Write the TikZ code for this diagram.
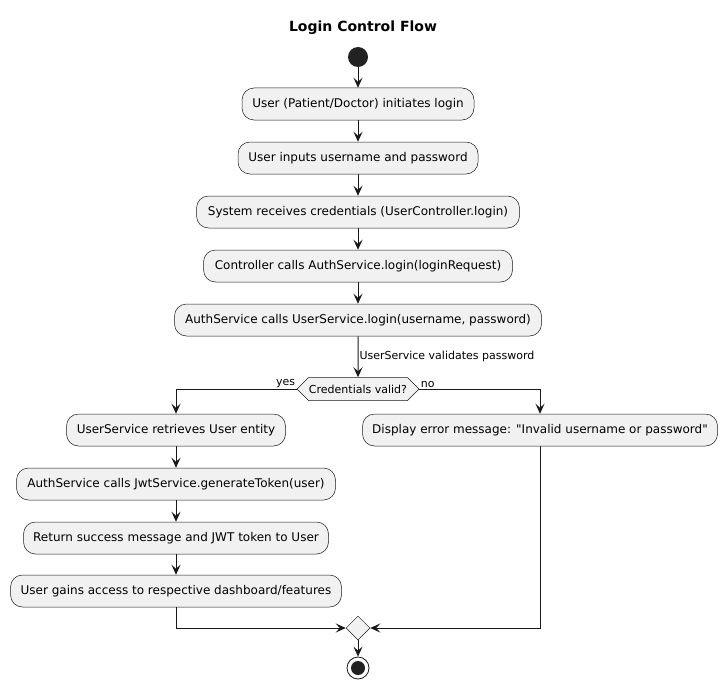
\documentclass[tikz,border=0pt]{standalone}
\usepackage{fontspec}
\setmainfont{DejaVu Sans}
\usetikzlibrary{arrows.meta}
\usetikzlibrary{shapes.geometric}
\usetikzlibrary{shapes.symbols}
\definecolor{actfill}{HTML}{F1F1F1}
\definecolor{actline}{HTML}{181818}
\definecolor{dot}{HTML}{222222}

\tikzset{
  act/.style={draw=actline, line width=0.5pt, fill=actfill, rounded corners=12pt,
    minimum height=32pt, inner sep=0pt, font=\fontsize{12}{14}\selectfont},
  flow/.style={line width=1pt, draw=actline, -{Stealth[length=10pt,width=9pt,inset=4pt]}},
  lbl/.style={font=\fontsize{11}{13}\selectfont, inner sep=1pt},
}

\begin{document}
\begin{tikzpicture}[x=1pt, y=-1pt]

  \useasboundingbox (0,0) rectangle (727,690);

  \node[font=\bfseries\fontsize{14}{16}\selectfont] (title) at (363,28) {Login Control Flow};

  % start
  \node[circle, fill=dot, minimum size=20pt, inner sep=0pt] (start) at (358,57) {};

  % main column
  \node[act, minimum width=232pt] (a1) at (358,104) {User (Patient/Doctor) initiates login};
  \node[act, minimum width=240pt] (a2) at (358,158) {User inputs username and password};
  \node[act, minimum width=323pt] (a3) at (358,212) {System receives credentials (UserController.login)};
  \node[act, minimum width=309pt] (a4) at (358,266) {Controller calls AuthService.login(loginRequest)};
  \node[act, minimum width=367pt] (a5) at (358,320) {AuthService calls UserService.login(username, password)};

  % decision
  \node[shape=signal, signal to=west and east, signal pointer angle=90,
    draw=actline, line width=0.5pt, fill=actfill, minimum width=122pt, minimum height=23pt,
    inner sep=0pt, font=\fontsize{11}{13}\selectfont] (dec) at (358,389) {Credentials valid?};

  % yes branch
  \node[act, minimum width=219pt] (l1) at (176,430) {UserService retrieves User entity};
  \node[act, minimum width=319pt] (l2) at (176,484) {AuthService calls JwtService.generateToken(user)};
  \node[act, minimum width=305pt] (l3) at (176,538) {Return success message and JWT token to User};
  \node[act, minimum width=331pt] (l4) at (176,591) {User gains access to respective dashboard/features};

  % no branch
  \node[act, minimum width=355pt] (r1) at (540,430) {Display error message: \textquotedbl Invalid username or password\textquotedbl};

  % merge and stop
  \node[diamond, draw=actline, line width=0.5pt, fill=actfill, minimum size=24pt, inner sep=0pt] (merge) at (358,628) {};
  \node[circle, draw=actline, line width=0.8pt, fill=white, minimum size=22pt, inner sep=0pt] (stop) at (358,668) {};
  \fill[dot] (stop) circle (7pt);

  \draw[flow] (start) -- (a1);
  \draw[flow] (a1) -- (a2);
  \draw[flow] (a2) -- (a3);
  \draw[flow] (a3) -- (a4);
  \draw[flow] (a4) -- (a5);
  \draw[flow] (a5) -- node[lbl, right] {UserService validates password} (dec);

  \draw[flow] (dec.west) -| node[lbl, pos=0, above left] {yes} (l1);
  \draw[flow] (dec.east) -| node[lbl, pos=0, above right] {no} (r1);

  \draw[flow] (l1) -- (l2);
  \draw[flow] (l2) -- (l3);
  \draw[flow] (l3) -- (l4);

  \draw[flow] (l4) |- (merge.west);
  \draw[flow] (r1) |- (merge.east);
  \draw[flow] (merge) -- (stop);

\end{tikzpicture}
\end{document}
